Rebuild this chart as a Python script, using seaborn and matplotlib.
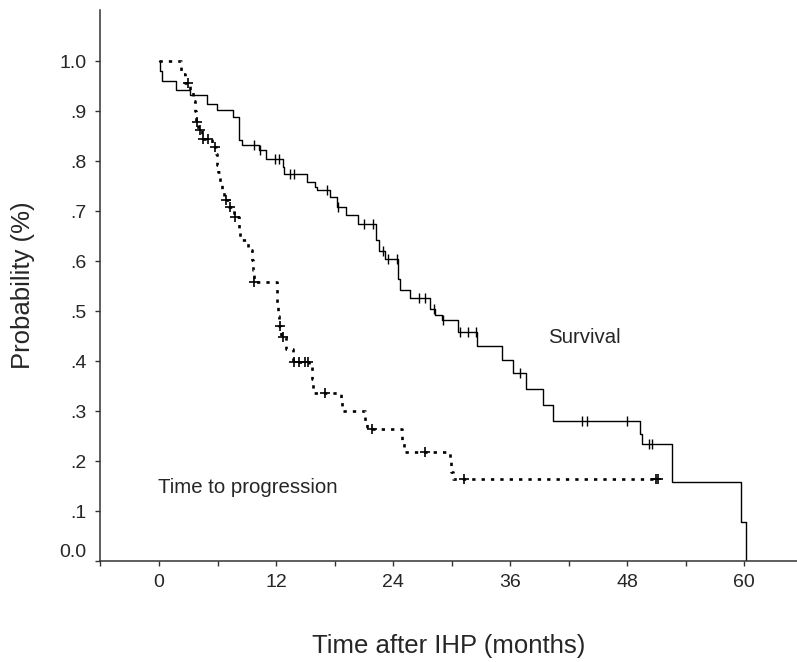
import numpy as np
import pandas as pd
import matplotlib
matplotlib.use("Agg")
import matplotlib.pyplot as plt
import seaborn as sns
from matplotlib.ticker import MultipleLocator

# survival: event times (months) and probability after each step
surv_t = [0, 0.15, 0.3, 1.7, 3.2, 4.9, 5.9, 7.55, 8.2, 8.5, 10.2, 11.0, 12.7, 12.8,
          15.2, 16.0, 16.2, 17.5, 18.2, 19.2, 20.4, 22.2, 22.5, 23.2, 24.5, 24.7,
          25.7, 27.8, 28.3, 29.0, 30.6, 32.6, 35.2, 36.3, 37.6, 39.4, 40.4, 49.3,
          49.5, 52.6, 59.7, 60.2]
surv_p = [1.0, 0.98, 0.96, 0.943, 0.932, 0.915, 0.902, 0.889, 0.843, 0.832, 0.822,
          0.805, 0.789, 0.775, 0.759, 0.749, 0.742, 0.729, 0.709, 0.692, 0.675, 0.642,
          0.62, 0.605, 0.565, 0.543, 0.527, 0.505, 0.492, 0.483, 0.459, 0.431, 0.403,
          0.377, 0.344, 0.312, 0.281, 0.255, 0.235, 0.159, 0.079, 0.0]
surv_cens = [9.7, 10.4, 11.9, 12.3, 13.4, 13.8, 17.2, 18.3, 21.0, 21.9, 23.0, 23.5,
             24.4, 26.7, 27.3, 28.2, 29.1, 30.9, 31.7, 32.5, 37.0, 43.4, 43.9, 48.0,
             50.2, 50.5]

# time to progression
ttp_t = [0, 2.3, 2.7, 3.2, 3.5, 3.7, 3.8, 4.0, 4.4, 5.4, 5.8, 5.9, 6.0, 6.3, 6.5,
         6.7, 7.2, 7.7, 8.2, 8.3, 9.1, 9.5, 9.6, 9.7, 12.1, 12.2, 12.3, 12.5, 13.0,
         13.7, 15.4, 15.7, 15.8, 18.7, 18.8, 21.1, 21.3, 24.9, 25.1, 29.8, 29.9,
         30.1, 51.2]
ttp_p = [1.0, 0.975, 0.957, 0.939, 0.92, 0.90, 0.879, 0.862, 0.845, 0.829, 0.814,
         0.792, 0.779, 0.759, 0.739, 0.723, 0.709, 0.689, 0.665, 0.643, 0.622, 0.602,
         0.582, 0.559, 0.51, 0.49, 0.47, 0.449, 0.425, 0.399, 0.389, 0.365, 0.337,
         0.319, 0.301, 0.280, 0.265, 0.239, 0.219, 0.199, 0.179, 0.164, 0.164]
ttp_cens = [3.0, 3.9, 4.2, 4.5, 5.0, 5.7, 6.9, 7.3, 7.8, 9.75, 12.4, 12.7, 13.8,
            14.3, 15.0, 15.3, 17.0, 21.8, 27.3, 31.3, 50.9, 51.2]

y_ticks = [0.0, 0.1, 0.2, 0.3, 0.4, 0.5, 0.6, 0.7, 0.8, 0.9, 1.0]
y_labels = ["0.0", ".1", ".2", ".3", ".4", ".5", ".6", ".7", ".8", ".9", "1.0"]
x_ticks = [0, 12, 24, 36, 48, 60]


def censor_frame(times, probs, cens):
    idx = np.searchsorted(times, cens, side="right") - 1
    return pd.DataFrame({"t": cens, "p": np.asarray(probs)[idx]})


surv = pd.DataFrame({"t": surv_t, "p": surv_p})
ttp = pd.DataFrame({"t": ttp_t, "p": ttp_p})

sns.set_style("ticks")
plt.rcParams["font.family"] = ["Liberation Sans", "DejaVu Sans"]

fig = plt.figure(figsize=(7.97, 6.62), dpi=100)
ax = fig.add_axes([100 / 797, 1 - 561 / 662, 1 - 100 / 797, 551 / 662])

sns.lineplot(data=surv, x="t", y="p", ax=ax, estimator=None, sort=False,
             drawstyle="steps-post", color="black", linewidth=1.0)
sns.lineplot(data=ttp, x="t", y="p", ax=ax, estimator=None, sort=False,
             drawstyle="steps-post", color="black", linewidth=1.9,
             linestyle=(0, (1.25, 2.3)), dash_capstyle="butt")

sns.scatterplot(data=censor_frame(surv_t, surv_p, surv_cens), x="t", y="p", ax=ax,
                marker="|", s=55, color="black", linewidth=1.0)
sns.scatterplot(data=censor_frame(ttp_t, ttp_p, ttp_cens), x="t", y="p", ax=ax,
                marker="+", s=45, color="black", linewidth=1.2)

ax.text(39.9, 0.436, "Survival", fontsize=14.7, ha="left", va="baseline")
ax.text(-0.1, 0.136, "Time to progression", fontsize=14.7, ha="left", va="baseline")

ax.set_xlim(-6.05, 65.4)
ax.set_ylim(0, 1.102)
ax.set_xticks(x_ticks)
ax.xaxis.set_minor_locator(MultipleLocator(6))
ax.set_yticks(y_ticks)
ax.set_yticklabels(y_labels)
ax.tick_params(axis="both", which="both", direction="out", length=3.5, width=1.0,
               color="#333333", labelsize=14)
ax.tick_params(axis="x", which="major", pad=6)
ax.tick_params(axis="y", which="major", pad=6)
ax.get_yticklabels()[0].set_va("bottom")

ax.set_xlabel("Time after IHP (months)", fontsize=18.5, labelpad=31)
ax.set_ylabel("Probability (%)", fontsize=18.5, labelpad=18)

sns.despine(ax=ax)
for s in ["left", "bottom"]:
    ax.spines[s].set_color("#333333")
    ax.spines[s].set_linewidth(1.1)

fig.savefig("out.png", dpi=100)
